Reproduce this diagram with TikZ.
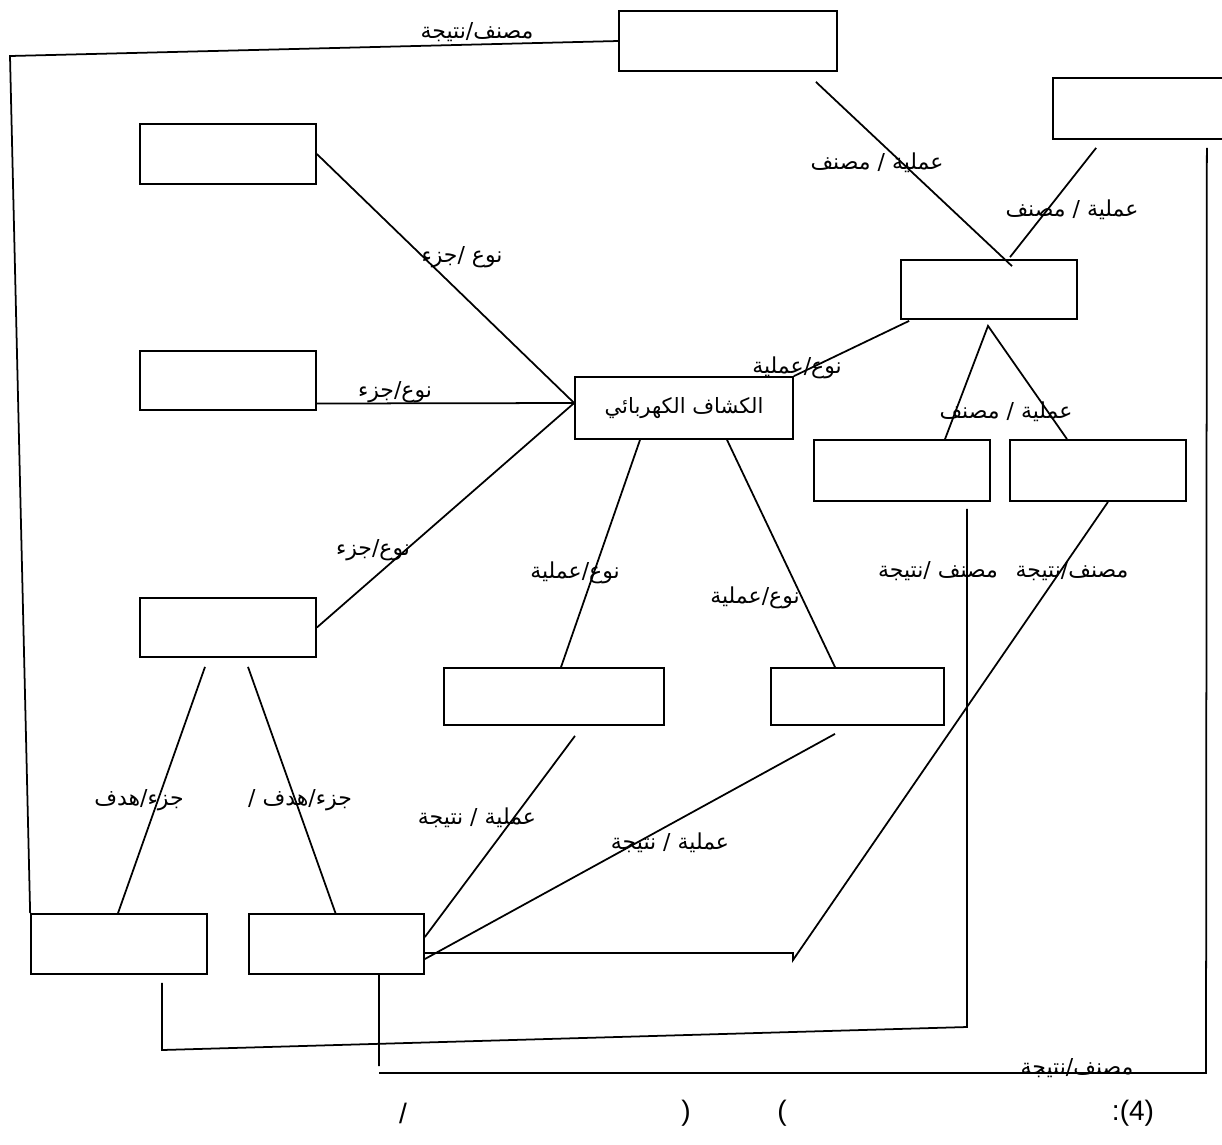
\documentclass[tikz,border=0pt]{standalone}
\usepackage{fontspec}
\setmainfont{Liberation Sans}
\newfontfamily\arabicfont[Script=Arabic]{DejaVu Sans}
\TeXXeTstate=1
\usetikzlibrary{calc}
\newcommand{\artxt}[1]{{\arabicfont\beginR #1\endR}}
\tikzset{
  box/.style={draw,line width=1pt,minimum width=3.52cm,minimum height=1.2cm,inner sep=0pt},
  lbl/.style={inner sep=0pt,font=\fontsize{12.5}{14}\selectfont},
  link/.style={line width=1pt},
  captxt/.style={inner sep=0pt,font=\fontsize{16}{18}\selectfont}
}
\begin{document}
\begin{tikzpicture}[x=0.02cm,y=-0.02cm]
  \useasboundingbox (0,0) rectangle (1222,1144);
  % Boxes
  \node[box,minimum width=4.36cm] (cls) at (728,41) {};
  \node[box,minimum width=3.4cm,minimum height=1.22cm] (cls2) at (1138,108.5) {};
  \node[box] (L1) at (228,154) {};
  \node[box,minimum height=1.18cm] (R1) at (989,289.5) {};
  \node[box,minimum height=1.18cm] (L2) at (228,380.5) {};
  \node[box,minimum width=4.36cm,minimum height=1.24cm,font=\fontsize{12}{14}\selectfont] (cen) at (684,408) {\artxt{الكشاف الكهربائي}};
  \node[box,minimum height=1.22cm] (R2a) at (902,470.5) {};
  \node[box,minimum height=1.22cm] (R2b) at (1098,470.5) {};
  \node[box,minimum height=1.18cm] (L3) at (228,627.5) {};
  \node[box,minimum width=4.4cm,minimum height=1.14cm] (M1) at (554,696.5) {};
  \node[box,minimum width=3.46cm,minimum height=1.14cm] (M2) at (857.5,696.5) {};
  \node[box] (BL1) at (119,944) {};
  \node[box,minimum width=3.5cm] (BL2) at (336.5,944) {};
  % Bend points
  \coordinate (p1) at (10,56);
  \coordinate (p2) at (1206,1073);
  \coordinate (p3) at (379,1073);
  \coordinate (p4) at (379,1066);
  \coordinate (p5) at (967,1027);
  \coordinate (p6) at (162,1050);
  \coordinate (p7) at (793,960);
  \coordinate (p8) at (793,953);
  \coordinate (apex) at ($(R1.south)+(-1,6)$);
  \coordinate (hub) at ($(cen.west)+(0,-5)$);
  % Top links
  \draw[link] (cls.west) -- (p1) -- (BL1.north west);
  \draw[link] ($(cls.south east)+(-22,10)$) -- ($(R1.north)+(23,7)$);
  \draw[link] ($(cls2.south west)+(44,8)$) -- ($(R1.north)+(21,-2)$);
  \draw[link] ($(cls2.south east)+(-17,8)$) -- (p2) -- (p3);
  \draw[link] ($(BL2.south)+(42.5,0)$) -- (p4);
  % Links into the centre box
  \draw[link] (L1.east) -- (hub);
  \draw[link] ($(L2.east)+(0,23)$) -- (hub);
  \draw[link] (L3.east) -- (hub);
  \draw[link] ($(R1.south west)+(9,1)$) -- (cen.north east);
  % Right branch
  \draw[link] ($(R2a.north)+(43,0)$) -- (apex) -- ($(R2b.north)+(-31,0)$);
  \draw[link] ($(R2a.south)+(65,7)$) -- (p5) -- (p6) -- ($(BL1.south)+(43,8)$);
  \draw[link] ($(R2b.south)+(10,0)$) -- (p7) -- (p8) -- ($(BL2.east)+(0,9)$);
  % Middle branch
  \draw[link] ($(cen.south)+(-44,0)$) -- ($(M1.north)+(7,0)$);
  \draw[link] ($(cen.south)+(43,0)$) -- ($(M2.north)+(-22.5,0)$);
  \draw[link] ($(M1.south)+(21,10)$) -- ($(BL2.east)+(0,-7)$);
  \draw[link] ($(M2.south)+(-22.5,8)$) -- ($(BL2.east)+(0,15)$);
  % Left branch
  \draw[link] ($(L3.south)+(-23,9)$) -- ($(BL1.north)+(-1,0)$);
  \draw[link] ($(L3.south)+(20,9)$) -- ($(BL2.north)+(-1,0)$);
  % Labels
  \node[lbl] (t1) at (477,32) {\artxt{مصنف/نتيجة}};
  \node[lbl] (t2) at (877,163) {\artxt{عملية / مصنف}};
  \node[lbl] (t3) at (1072,210) {\artxt{عملية / مصنف}};
  \node[lbl] (t4) at (462,257) {\artxt{نوع /جزء}};
  \node[lbl] (t5) at (395,392) {\artxt{نوع/جزء}};
  \node[lbl] (t6) at (797,368) {\artxt{نوع/عملية}};
  \node[lbl] (t7) at (1006,412) {\artxt{عملية / مصنف}};
  \node[lbl] (t8) at (373,550) {\artxt{نوع/جزء}};
  \node[lbl] (t9) at (575,573) {\artxt{نوع/عملية}};
  \node[lbl] (t10) at (755,598) {\artxt{نوع/عملية}};
  \node[lbl] (t11) at (938,571) {\artxt{مصنف /نتيجة}};
  \node[lbl] (t12) at (1072,571) {\artxt{مصنف/نتيجة}};
  \node[lbl] (t13) at (139,800) {\artxt{جزء/هدف}};
  \node[lbl] (t14) at (300,800) {\artxt{جزء/هدف /}};
  \node[lbl] (t15) at (477,818) {\artxt{عملية / نتيجة}};
  \node[lbl] (t16) at (670,843) {\artxt{عملية / نتيجة}};
  \node[lbl] (t17) at (1077,1068) {\artxt{مصنف/نتيجة}};
  % Caption
  \node[captxt] (cap1) at (1133,1113) {:(4)};
  \node[captxt] (cap2) at (782,1113) {(};
  \node[captxt] (cap3) at (686,1113) {)};
  \node[captxt] (cap4) at (403,1113) {/};
\end{tikzpicture}
\end{document}
